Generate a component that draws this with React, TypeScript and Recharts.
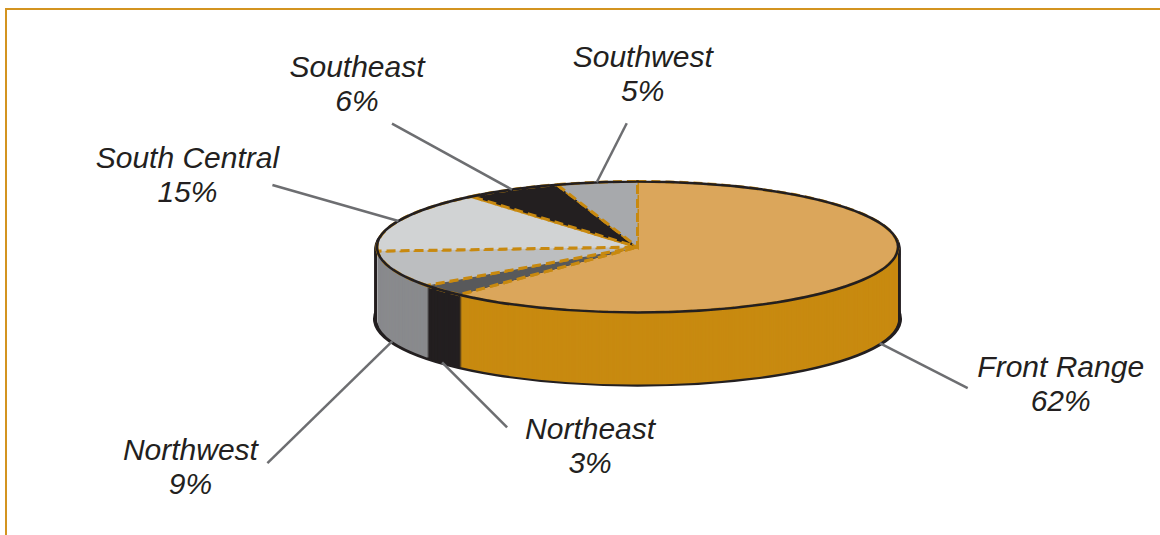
import React from "react";
import { PieChart, Pie, Cell } from "recharts";

const regions = ["Front Range", "Northeast", "Northwest", "South Central", "Southeast", "Southwest"];
const shares = [62, 3, 9, 15, 6, 5];
const topColors = ["#DBA65B", "#58595B", "#BCBEC0", "#D1D3D4", "#231F20", "#A7A9AC"];
const sideColors = ["#C88A10", "#231F20", "#898A8D", "#BCBEC0", "#231F20", "#A7A9AC"];
// label placement, relative to where each slice meets the rim
const lineOffsets = [[88, 45], [65, 65], [-125, 122], [-126, -36], [-120, -66], [30, -59]];
const textOffsets = [[93, -11], [83, 12], [-77, -3], [-85, -17], [-35, -47], [16, -56]];

const W = 1160;
const H = 535;
const CX = 637.5;
const CY = 247;
const RX = 260.5;
const RY = 65.5;
const DEPTH = 72;
const S = RY / RX;

const data = regions.map((name, i) => ({ name, value: shares[i] }));
const ring = [{ name: "rim", value: 1 }];
const depths = Array.from({ length: DEPTH }, (_, i) => DEPTH - i);

const css = `
.pie3d .recharts-pie-sector {
  transform: scale(1, ${S});
  transform-origin: 0 0;
  transform-box: view-box;
}
.pie3d .recharts-sector {
  vector-effect: non-scaling-stroke;
}
`;

function renderLabel(props: any) {
  const { cx, cy, midAngle, outerRadius, index, percent } = props;
  const rad = (midAngle * Math.PI) / 180;
  const sy = cy * S;
  const ry = outerRadius * S;
  const x0 = cx + outerRadius * Math.cos(rad);
  let y0 = sy - ry * Math.sin(rad);
  if (Math.sin(rad) < 0) y0 += DEPTH;
  const x1 = x0 + lineOffsets[index][0];
  const y1 = y0 + lineOffsets[index][1];
  const tx = x1 + textOffsets[index][0];
  const ty = y1 + textOffsets[index][1];
  return (
    <g key={`lbl-${index}`}>
      <line x1={x0} y1={y0} x2={x1} y2={y1} stroke="#6D6E71" strokeWidth={2.5} />
      <text
        x={tx}
        y={ty}
        textAnchor="middle"
        fill="#231F20"
        style={{ fontFamily: "'Liberation Sans', Arial, sans-serif", fontStyle: "italic", fontSize: 30 }}
      >
        <tspan x={tx} dy={0}>{regions[index]}</tspan>
        <tspan x={tx} dy={34}>{`${Math.round(percent * 100)}%`}</tspan>
      </text>
    </g>
  );
}

export default function App() {
  return (
    <div style={{ position: "absolute", left: 0, top: 0, width: W, height: H, overflow: "hidden", background: "#fff" }}>
      <style>{css}</style>
      <div
        style={{
          position: "absolute",
          left: 5,
          top: 8,
          width: 1300,
          height: 700,
          borderTop: "2.5px solid #D39420",
          borderLeft: "2.5px solid #D39420",
        }}
      />
      <div className="pie3d" style={{ position: "absolute", left: 0, top: 0 }}>
        <PieChart width={W} height={H} margin={{ top: 0, right: 0, bottom: 0, left: 0 }}>
          {depths.map((d) => (
            <Pie
              key={`edge-${d}`}
              data={ring}
              dataKey="value"
              cx={CX}
              cy={(CY + d) / S}
              outerRadius={RX + 2.5}
              startAngle={90}
              endAngle={-270}
              fill="#231F20"
              stroke={d === DEPTH ? "#231F20" : "none"}
              strokeWidth={d === DEPTH ? 3 : 0}
              isAnimationActive={false}
            />
          ))}
          {depths.map((d) => (
            <Pie
              key={`side-${d}`}
              data={data}
              dataKey="value"
              cx={CX}
              cy={(CY + d) / S}
              outerRadius={RX}
              startAngle={90}
              endAngle={-270}
              stroke="none"
              isAnimationActive={false}
            >
              {data.map((e, i) => (
                <Cell key={`s-${d}-${i}`} fill={sideColors[i]} />
              ))}
            </Pie>
          ))}
          <Pie
            data={data}
            dataKey="value"
            cx={CX}
            cy={CY / S}
            outerRadius={RX}
            startAngle={90}
            endAngle={-270}
            stroke="#C8890F"
            strokeWidth={3}
            strokeDasharray="9 5"
            label={renderLabel}
            labelLine={false}
            isAnimationActive={false}
          >
            {data.map((e, i) => (
              <Cell key={`t-${i}`} fill={topColors[i]} />
            ))}
          </Pie>
          <Pie
            data={ring}
            dataKey="value"
            cx={CX}
            cy={CY / S}
            innerRadius={RX - 0.01}
            outerRadius={RX}
            startAngle={90}
            endAngle={-270}
            fill="none"
            stroke="#231F20"
            strokeWidth={2.5}
            isAnimationActive={false}
          />
        </PieChart>
      </div>
    </div>
  );
}
